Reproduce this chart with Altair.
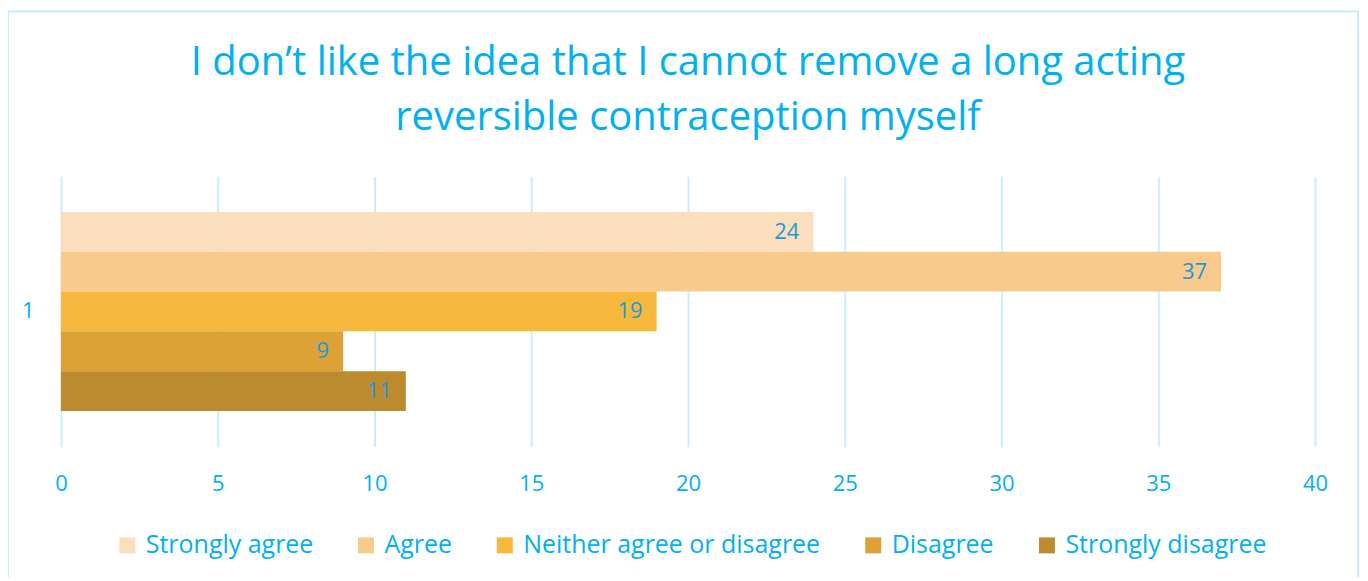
import altair as alt
import pandas as pd

groups = ["1"] * 5
responses = ["Strongly agree", "Agree", "Neither agree or disagree", "Disagree", "Strongly disagree"]
counts = [24, 37, 19, 9, 11]
colors = ["#FADEBE", "#F8CB8D", "#F7B83E", "#DCA236", "#BC8B2D"]

df = pd.DataFrame({"group": groups, "response": responses, "count": counts})

FONT = "Open Sans"
BLUE = "#00B0F0"
LABEL_BLUE = "#1C98D6"
GRID = "#C9EEFC"

base = alt.Chart(df)

bars = base.mark_bar().encode(
    x=alt.X("count:Q", scale=alt.Scale(domain=[0, 40]),
            axis=alt.Axis(values=[0, 5, 10, 15, 20, 25, 30, 35, 40], title=None, grid=True,
                          gridColor=GRID, gridWidth=2, domain=False, ticks=False,
                          labelFlush=False, labelFont=FONT, labelFontSize=22,
                          labelColor=BLUE, labelPadding=27)),
    y=alt.Y("group:N", scale=alt.Scale(paddingOuter=0.18, paddingInner=0),
            axis=alt.Axis(title=None, domain=False, ticks=False, grid=False, labelFont=FONT,
                          labelFontSize=22, labelColor=BLUE, labelPadding=27)),
    yOffset=alt.YOffset("response:N", sort=responses),
    color=alt.Color("response:N", sort=responses,
                    scale=alt.Scale(domain=responses, range=colors),
                    legend=alt.Legend(title=None, orient="none", direction="horizontal",
                                      legendX=54, legendY=357, symbolType="square",
                                      symbolSize=256, symbolStrokeWidth=0,
                                      labelFont=FONT, labelFontSize=25, labelColor=BLUE,
                                      labelLimit=0, labelOffset=6, columnPadding=40)),
)

labels = base.mark_text(align="right", baseline="middle", dx=-14, font=FONT, fontSize=22,
                        color=LABEL_BLUE).encode(
    x="count:Q",
    y="group:N",
    yOffset=alt.YOffset("response:N", sort=responses),
    text="count:Q",
)

border = base.mark_rect(filled=False, stroke="#C6ECFB", strokeWidth=2).encode(
    x=alt.value(-53), x2=alt.value(1299), y=alt.value(-165), y2=alt.value(430)
).transform_filter(alt.datum.response == "Agree")

chart = alt.layer(border, bars, labels).properties(
    width=1256,
    height=271,
    title=alt.Title(["I don\u2019t like the idea that I cannot remove a long acting",
                     "reversible contraception myself"],
                    anchor="middle", frame="group", font=FONT, fontSize=40,
                    fontWeight="normal", color=BLUE, lineHeight=55, offset=0, dy=128),
    autosize=alt.AutoSizeParams(type="none"),
    padding={"left": 53, "top": 168, "right": 45, "bottom": 130},
).configure(background="white", view={"stroke": None})

chart.save("out.html", embed_options={"renderer": "svg", "actions": False})
